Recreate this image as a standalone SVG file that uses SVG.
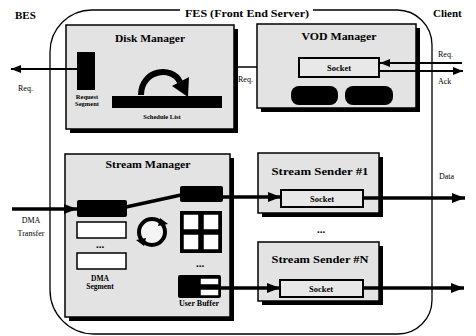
<svg xmlns="http://www.w3.org/2000/svg" width="476" height="336" viewBox="0 0 476 336">
<defs>
<style>
.t{font-family:"Liberation Serif","Times New Roman",serif;fill:#000}
.b{font-weight:bold}
.box{fill:#e3e3e3;stroke:#000;stroke-width:1.5}
.sh{fill:#000}
.sock{fill:#e8e8e8;stroke:#000;stroke-width:2}
.blk{fill:#000}
.wht{fill:#fff;stroke:#000;stroke-width:1.5}
.ln{stroke:#000;fill:none}
</style>
<marker id="ah" markerUnits="userSpaceOnUse" markerWidth="13" markerHeight="10" refX="13" refY="5" orient="auto"><path d="M0,0 L13,5 L0,10 z" fill="#000"/></marker>
<marker id="as" markerUnits="userSpaceOnUse" markerWidth="10" markerHeight="8" refX="10" refY="4" orient="auto"><path d="M0,0 L10,4 L0,8 z" fill="#000"/></marker>
</defs>
<rect width="476" height="336" fill="#fff"/>

<g id="frame">
<path class="ln" stroke-width="1.3" d="M180,10 H92 A42,42 0 0 0 50,52 V290 A44,44 0 0 0 94,334 H398 A34,34 0 0 0 432,300 V45 A35,35 0 0 0 397,10 H313"/>
<text class="t b" x="247" y="17" font-size="11" text-anchor="middle" textLength="124" lengthAdjust="spacingAndGlyphs">FES (Front End Server)</text>
</g>
<g id="bes"><text class="t b" x="15" y="19" font-size="11">BES</text></g>
<g id="client"><text class="t b" x="433" y="17" font-size="11">Client</text></g>

<g id="disk-manager">
<rect class="sh" x="70" y="29" width="168" height="104"/>
<rect class="box" x="66" y="25" width="168" height="104"/>
<text class="t b" x="150" y="42" font-size="10" text-anchor="middle" textLength="70" lengthAdjust="spacingAndGlyphs">Disk Manager</text>
<rect class="blk" x="77" y="52" width="18" height="38"/>
<text class="t b" x="87" y="99" font-size="6.5" text-anchor="middle">Request</text>
<text class="t b" x="87" y="106" font-size="6.5" text-anchor="middle">Segment</text>
<path class="ln" stroke-width="6" d="M141,95 C141,70 172,65 180,82"/>
<polygon class="blk" points="188,97 172,86 189,77"/>
<rect class="blk" x="112" y="96" width="110" height="12"/>
<text class="t b" x="162" y="119" font-size="6.5" text-anchor="middle">Schedule List</text>
</g>

<g id="vod-manager">
<rect class="sh" x="261" y="28" width="159" height="84"/>
<rect class="box" x="257" y="24" width="159" height="84"/>
<text class="t b" x="339" y="40" font-size="10" text-anchor="middle" textLength="75" lengthAdjust="spacingAndGlyphs">VOD Manager</text>
<rect class="sock" x="299" y="58" width="80" height="19"/>
<text class="t b" x="339" y="71" font-size="8.5" text-anchor="middle">Socket</text>
<rect class="blk" x="291" y="86" width="47" height="19" rx="8"/>
<rect class="blk" x="345" y="86" width="48" height="19" rx="8"/>
</g>

<g id="stream-manager">
<rect class="sh" x="69" y="158" width="165" height="163"/>
<rect class="box" x="65" y="154" width="165" height="163"/>
<text class="t b" x="148" y="168" font-size="10" text-anchor="middle" textLength="85" lengthAdjust="spacingAndGlyphs">Stream Manager</text>
<rect class="blk" x="77" y="200" width="50" height="17" rx="2"/>
<rect class="blk" x="180" y="186" width="43" height="16" rx="2"/>
<rect class="wht" x="77" y="222" width="49" height="16"/>
<text class="t b" x="100" y="248" font-size="11" text-anchor="middle">...</text>
<rect class="wht" x="77" y="253" width="49" height="16"/>
<text class="t b" x="100" y="281" font-size="7.5" text-anchor="middle">DMA</text>
<text class="t b" x="100" y="289" font-size="7.5" text-anchor="middle">Segment</text>
<circle cx="152" cy="232" r="13" fill="#f4f4f4" stroke="#000" stroke-width="4"/>
<polygon class="blk" points="160,218 168,224 158,226"/>
<polygon class="blk" points="144,246 136,240 146,238"/>
<rect class="blk" x="180" y="211" width="42" height="42"/>
<rect class="wht" x="183" y="214" width="16" height="16"/>
<rect class="wht" x="203" y="214" width="16" height="16"/>
<rect class="wht" x="183" y="234" width="16" height="16"/>
<rect class="wht" x="203" y="234" width="16" height="16"/>
<text class="t b" x="200" y="267" font-size="11" text-anchor="middle">...</text>
<rect class="blk" x="178" y="275" width="43" height="23" rx="2"/>
<rect class="wht" x="200" y="278" width="19" height="7"/>
<rect class="wht" x="200" y="289" width="19" height="7"/>
<text class="t b" x="199" y="306" font-size="8" text-anchor="middle">User Buffer</text>
</g>

<g id="stream-sender-1">
<rect class="sh" x="262" y="157" width="121" height="60"/>
<rect class="box" x="258" y="153" width="121" height="60"/>
<text class="t b" x="320" y="175" font-size="10" text-anchor="middle" textLength="97" lengthAdjust="spacingAndGlyphs">Stream Sender #1</text>
<rect class="sock" x="281" y="190" width="82" height="17"/>
<text class="t b" x="322" y="202" font-size="8.5" text-anchor="middle">Socket</text>
</g>

<g id="ellipsis"><text class="t b" x="321" y="233" font-size="11" text-anchor="middle">...</text></g>

<g id="stream-sender-n">
<rect class="sh" x="262" y="246" width="121" height="59"/>
<rect class="box" x="258" y="242" width="121" height="59"/>
<text class="t b" x="320" y="263" font-size="10" text-anchor="middle" textLength="97" lengthAdjust="spacingAndGlyphs">Stream Sender #N</text>
<rect class="sock" x="280" y="280" width="83" height="17"/>
<text class="t b" x="321" y="292" font-size="8.5" text-anchor="middle">Socket</text>
</g>

<g id="connectors">
<line class="ln" stroke-width="2" x1="77" y1="69" x2="11" y2="69" marker-end="url(#as)"/>
<text class="t" x="18" y="91" font-size="8">Req.</text>
<line class="ln" stroke-width="1.5" x1="234" y1="67" x2="257" y2="67"/>
<text class="t" x="238" y="82" font-size="8">Req.</text>
<line class="ln" stroke-width="2" x1="462" y1="63" x2="380" y2="63" marker-end="url(#as)"/>
<text class="t" x="438" y="57" font-size="8">Req.</text>
<line class="ln" stroke-width="2" x1="379" y1="71" x2="463" y2="71" marker-end="url(#as)"/>
<text class="t" x="438" y="84" font-size="8">Ack</text>
<line class="ln" stroke-width="3.5" x1="12" y1="209" x2="77" y2="209" marker-end="url(#ah)"/>
<text class="t" x="31" y="223" font-size="8" text-anchor="middle">DMA</text>
<text class="t" x="31" y="236" font-size="8" text-anchor="middle">Transfer</text>
<line class="ln" stroke-width="3.5" x1="126" y1="207" x2="181" y2="195"/>
<line class="ln" stroke-width="3.5" x1="222" y1="197" x2="281" y2="197" marker-end="url(#ah)"/>
<line class="ln" stroke-width="3.5" x1="363" y1="198" x2="465" y2="198" marker-end="url(#ah)"/>
<text class="t" x="439" y="179" font-size="8">Data</text>
<line class="ln" stroke-width="3.5" x1="220" y1="288" x2="280" y2="288" marker-end="url(#ah)"/>
<line class="ln" stroke-width="3.5" x1="363" y1="288" x2="464" y2="288" marker-end="url(#ah)"/>
</g>
</svg>
